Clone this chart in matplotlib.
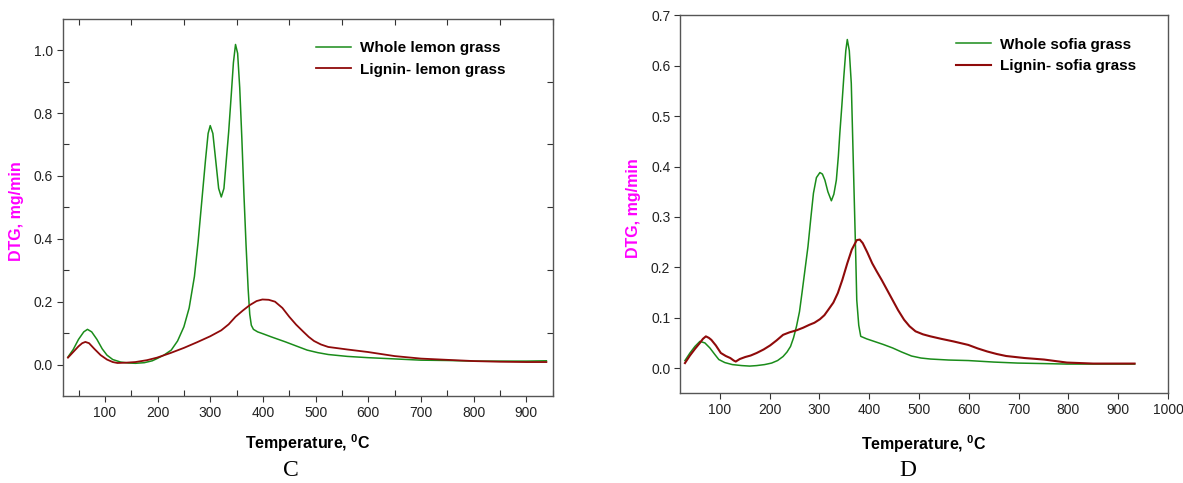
#!/usr/bin/env python3
import numpy as np
import matplotlib
matplotlib.use("Agg")
import matplotlib.pyplot as plt
from matplotlib.ticker import FixedLocator, MultipleLocator

plt.rcParams['font.family'] = ['Liberation Sans', 'DejaVu Sans']
plt.rcParams['mathtext.fontset'] = 'custom'
plt.rcParams['mathtext.rm'] = 'Liberation Sans'
plt.rcParams['mathtext.bf'] = 'Liberation Sans:bold'

###########################################################################
# C : lemon grass
lemon_whole_t = [30, 40, 50, 60, 67, 75, 85, 95, 104, 115, 130, 145, 158, 175, 190, 199,
                 212, 226, 238, 250, 260, 270, 277, 284, 291, 296, 300, 305, 311, 316, 321,
                 326, 330, 335, 340, 344, 348, 352, 356, 360, 364, 368, 372, 375, 378, 382,
                 390, 400, 416, 443, 465, 484, 504, 524, 560, 599, 650, 700, 750, 802, 850,
                 900, 938]
lemon_whole_y = [0.024, 0.048, 0.080, 0.104, 0.112, 0.104, 0.080, 0.050, 0.030, 0.016, 0.008,
                 0.005, 0.004, 0.006, 0.012, 0.019, 0.030, 0.046, 0.075, 0.120, 0.180, 0.280,
                 0.390, 0.520, 0.650, 0.735, 0.760, 0.735, 0.640, 0.560, 0.533, 0.560, 0.640,
                 0.740, 0.860, 0.960, 1.018, 0.990, 0.880, 0.720, 0.540, 0.380, 0.240, 0.160,
                 0.125, 0.112, 0.104, 0.098, 0.088, 0.072, 0.058, 0.046, 0.038, 0.032, 0.026,
                 0.022, 0.018, 0.014, 0.013, 0.011, 0.011, 0.011, 0.012]

lemon_lignin_t = [30, 40, 50, 57, 63, 70, 80, 92, 104, 115, 124, 140, 158, 180, 199, 225,
                  250, 275, 300, 321, 335, 348, 362, 375, 388, 399, 411, 423, 437, 450, 463,
                  477, 487, 497, 510, 524, 560, 599, 650, 700, 750, 802, 850, 900, 938]
lemon_lignin_y = [0.022, 0.040, 0.058, 0.068, 0.072, 0.068, 0.050, 0.030, 0.016, 0.008, 0.005,
                  0.006, 0.008, 0.014, 0.022, 0.037, 0.053, 0.071, 0.090, 0.109, 0.128, 0.152,
                  0.172, 0.189, 0.202, 0.207, 0.206, 0.200, 0.180, 0.152, 0.127, 0.104, 0.088,
                  0.075, 0.064, 0.056, 0.048, 0.040, 0.027, 0.019, 0.015, 0.011, 0.009, 0.008,
                  0.008]

# D : sofia grass
sofia_whole_t = [30, 40, 50, 60, 70, 80, 90, 98, 110, 125, 144, 160, 174, 190, 204, 216,
                 227, 235, 242, 248, 254, 260, 265, 271, 277, 283, 288, 294, 301, 306, 311,
                 317, 324, 329, 334, 338, 341, 345, 349, 353, 356, 360, 364, 367, 370, 373,
                 375, 379, 383, 395, 410, 428, 447, 465, 485, 504, 523, 560, 599, 650, 698,
                 750, 797, 850, 900, 933]
sofia_whole_y = [0.015, 0.030, 0.043, 0.053, 0.050, 0.040, 0.027, 0.017, 0.011, 0.007, 0.005,
                 0.004, 0.005, 0.007, 0.010, 0.015, 0.023, 0.032, 0.043, 0.060, 0.083, 0.112,
                 0.149, 0.195, 0.241, 0.300, 0.347, 0.378, 0.388, 0.385, 0.373, 0.350, 0.332,
                 0.345, 0.373, 0.420, 0.466, 0.520, 0.578, 0.630, 0.652, 0.630, 0.565, 0.450,
                 0.334, 0.220, 0.135, 0.085, 0.063, 0.058, 0.053, 0.047, 0.040, 0.032, 0.024,
                 0.020, 0.018, 0.016, 0.015, 0.012, 0.010, 0.009, 0.008, 0.008, 0.008, 0.008]

sofia_lignin_t = [30, 40, 50, 60, 66, 72, 78, 83, 92, 102, 112, 121, 128, 132, 140, 151,
                  162, 174, 188, 201, 214, 227, 240, 254, 267, 280, 290, 301, 310, 318, 328,
                  337, 346, 356, 365, 375, 381, 387, 396, 406, 415, 425, 436, 447, 458, 470,
                  481, 493, 508, 523, 545, 569, 599, 618, 637, 656, 675, 712, 751, 797, 850,
                  900, 933]
sofia_lignin_y = [0.010, 0.025, 0.038, 0.050, 0.058, 0.063, 0.060, 0.056, 0.045, 0.030,
                  0.024, 0.020, 0.015, 0.013, 0.018, 0.022, 0.025, 0.030, 0.037, 0.045,
                  0.055, 0.066, 0.071, 0.075, 0.080, 0.086, 0.090, 0.097, 0.105, 0.116,
                  0.130, 0.149, 0.175, 0.208, 0.235, 0.254, 0.255, 0.248, 0.230, 0.208,
                  0.192, 0.175, 0.155, 0.135, 0.115, 0.096, 0.083, 0.073, 0.067, 0.063,
                  0.058, 0.053, 0.046, 0.039, 0.033, 0.028, 0.024, 0.020, 0.017, 0.011,
                  0.009, 0.009, 0.009]

green = '#1a8c1a'
dred = '#8f0a0a'
magenta = '#ff00ff'
spine_c = '#555555'

##########################################################################
fig = plt.figure(figsize=(11.83, 4.83), dpi=100)
axC = fig.add_axes([0.0530, 0.1801, 0.4142, 0.7812])
axD = fig.add_axes([0.5748, 0.1857, 0.4125, 0.7826])


def style_axes(ax):
	for s in ax.spines.values():
		s.set_color(spine_c)
		s.set_linewidth(1.0)
	ax.tick_params(which='major', direction='out', length=4, width=0.8,
	               color='#333333', labelsize=10, labelcolor='#222222', pad=3)


##########################################################################
axC.plot(lemon_whole_t, lemon_whole_y, color=green, lw=1.1, label='Whole lemon grass')
axC.plot(lemon_lignin_t, lemon_lignin_y, color=dred, lw=1.3, label='Lignin- lemon grass')
axC.set_xlim(20, 950)
axC.set_ylim(-0.1, 1.1)
axC.xaxis.set_major_locator(FixedLocator([100, 200, 300, 400, 500, 600, 700, 800, 900]))
axC.xaxis.set_minor_locator(MultipleLocator(50))
axC.yaxis.set_major_locator(FixedLocator([0.0, 0.2, 0.4, 0.6, 0.8, 1.0]))
axC.yaxis.set_minor_locator(FixedLocator([0.1, 0.3, 0.5, 0.7, 0.9]))
axC.yaxis.set_major_formatter(plt.FormatStrFormatter('%.1f'))
style_axes(axC)
axC.tick_params(which='minor', direction='in', length=4, width=0.8, color='#333333',
                top=True, right=True, left=True, bottom=True)

axD.plot(sofia_whole_t, sofia_whole_y, color=green, lw=1.1, label='Whole sofia grass')
axD.plot(sofia_lignin_t, sofia_lignin_y, color=dred, lw=1.5, label='Lignin- sofia grass')
axD.set_xlim(20, 1000)
axD.set_ylim(-0.05, 0.7)
axD.xaxis.set_major_locator(FixedLocator([100, 200, 300, 400, 500, 600, 700, 800, 900, 1000]))
axD.yaxis.set_major_locator(FixedLocator([0.0, 0.1, 0.2, 0.3, 0.4, 0.5, 0.6, 0.7]))
axD.yaxis.set_major_formatter(plt.FormatStrFormatter('%.1f'))
style_axes(axD)

##########################################################################
for ax, lx, ly, lp in [(axC, 0.517, 0.941, 9), (axD, 0.565, 0.941, 12)]:
	leg = ax.legend(loc='upper left', bbox_to_anchor=(lx, ly), frameon=False,
	                handlelength=2.3, handletextpad=0.6, labelspacing=0.5,
	                borderaxespad=0, borderpad=0, prop={'weight': 'bold', 'size': 11})
	ax.set_xlabel(r'Temperature, $\mathbf{^0}$C', fontsize=11.5, fontweight='bold', labelpad=lp)
	ax.set_ylabel('DTG, mg/min', fontsize=11.5, fontweight='bold', color=magenta)

axC.yaxis.set_label_coords(-0.079, 0.49)
axD.yaxis.set_label_coords(-0.080, 0.49)

fig.text(291 / 1183, 1 - 470 / 483, 'C', family='Liberation Serif', fontsize=17,
         ha='center', va='center')
fig.text(908 / 1183, 1 - 470 / 483, 'D', family='Liberation Serif', fontsize=17,
         ha='center', va='center')

fig.savefig('out.png', dpi=100)
plt.close()
